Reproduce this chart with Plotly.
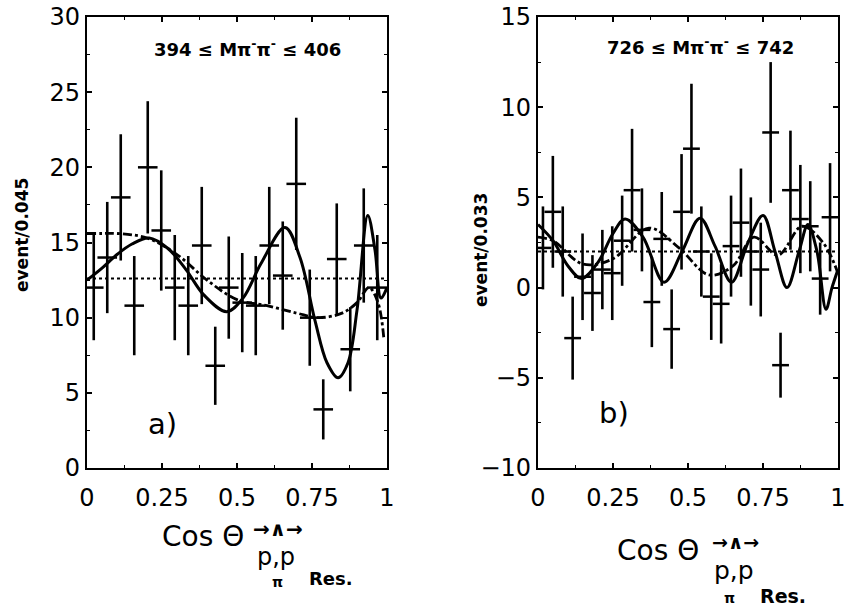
import plotly.graph_objects as go

W, H = 845, 608

# ---------------- data: panel a) ----------------
a_x = [0.0225, 0.0675, 0.1125, 0.1575, 0.2025, 0.2475, 0.2925, 0.3375, 0.3825, 0.4275, 0.4725,
       0.5175, 0.5625, 0.6075, 0.6525, 0.6975, 0.7425, 0.7875, 0.8325, 0.8775, 0.9225, 0.9675]
a_y = [12.0, 14.0, 18.0, 10.8, 20.0, 15.8, 12.0, 10.8, 14.8, 6.8, 12.0,
       11.0, 10.8, 14.8, 12.8, 18.9, 10.0, 3.9, 13.9, 7.9, 14.8, 12.0]
a_err = [3.5, 3.7, 4.2, 3.3, 4.4, 4.0, 3.5, 3.3, 3.9, 2.6, 3.4,
         3.3, 3.3, 3.9, 3.6, 4.4, 3.2, 2.0, 3.7, 2.8, 3.8, 3.5]

a_solid_x = [0, 0.05, 0.1, 0.15, 0.207, 0.27, 0.33, 0.39, 0.466, 0.52, 0.58, 0.66, 0.71, 0.76,
             0.8, 0.837, 0.87, 0.9, 0.936, 0.96, 0.98, 1.0]
a_solid_y = [12.5, 13.3, 14.2, 14.9, 15.3, 14.6, 13.2, 11.5, 10.4, 11.3, 13.6, 16.0, 14.0, 9.8,
             7.0, 6.0, 7.0, 10.5, 16.8, 14.5, 11.3, 12.0]
a_dash_x = [0, 0.05, 0.1, 0.2, 0.3, 0.4, 0.5, 0.6, 0.7, 0.77, 0.85, 0.9, 0.94, 0.97, 0.99]
a_dash_y = [15.6, 15.6, 15.6, 15.3, 14.2, 12.5, 11.2, 10.8, 10.3, 10.0, 10.3, 11.0, 12.0, 11.0, 8.5]
a_flat = 12.6

# ---------------- data: panel b) ----------------
b_x = [0.0165, 0.0495, 0.0825, 0.1155, 0.1485, 0.1815, 0.2145, 0.2475, 0.2805, 0.3135,
       0.3465, 0.3795, 0.4125, 0.4455, 0.4785, 0.5115, 0.5445, 0.5775, 0.6105, 0.6435,
       0.6765, 0.7095, 0.7425, 0.7755, 0.8085, 0.8415, 0.8745, 0.9075, 0.9405, 0.9735]
b_y = [2.2, 4.2, 2.0, -2.8, 0.6, -0.3, 1.0, 0.8, 2.6, 5.4,
       3.2, -0.8, 2.7, -2.3, 4.2, 7.7, 2.0, -0.5, -0.9, 2.3,
       3.6, 2.0, 1.0, 8.6, -4.3, 5.4, 3.8, 3.4, 0.5, 3.9]
b_err = [2.3, 3.1, 2.5, 2.3, 2.4, 2.1, 2.2, 2.6, 2.5, 3.4,
         2.3, 2.5, 2.6, 2.2, 3.2, 3.6, 2.5, 2.4, 2.2, 2.8,
         3.0, 3.0, 2.6, 3.9, 1.8, 3.3, 3.0, 2.5, 2.0, 3.0]

b_solid_x = [0, 0.05, 0.1, 0.145, 0.2, 0.25, 0.29, 0.35, 0.42, 0.48, 0.54, 0.59, 0.645,
             0.7, 0.75, 0.79, 0.83, 0.87, 0.9, 0.93, 0.96, 0.98, 1.0]
b_solid_y = [3.5, 2.6, 1.2, 0.5, 1.4, 3.0, 3.8, 2.8, 0.3, 2.0, 3.85, 2.3, 0.3,
             2.5, 4.0, 2.0, 0.0, 2.0, 3.5, 2.0, -1.2, 0.0, 1.0]
b_dash_x = [0, 0.05, 0.15, 0.25, 0.37, 0.47, 0.57, 0.65, 0.72, 0.8, 0.88, 0.95, 1.0]
b_dash_y = [2.8, 2.6, 1.3, 1.6, 3.3, 2.2, 0.7, 1.2, 2.8, 1.8, 3.4, 2.5, 0.8]
b_flat = 2.0

a_title = "394 ≤ Mπ<sup>-</sup>π<sup>-</sup> ≤ 406"
b_title = "726 ≤ Mπ<sup>-</sup>π<sup>-</sup> ≤ 742"
a_ylabel = "event/0.045"
b_ylabel = "event/0.033"
x_ticks = [0, 0.25, 0.5, 0.75, 1]
x_ticktext = ["0", "0.25", "0.5", "0.75", "1"]


def px(x):
    return x / W


def py(y):
    return 1 - y / H


fig = go.Figure()


def add_panel(xs, ys, errs, sx, sy, dx, dy, flat, xa, ya, msize):
    fig.add_trace(go.Scatter(x=xs, y=ys, mode="markers", xaxis=xa, yaxis=ya,
                             marker=dict(symbol="line-ew", size=msize, color="black",
                                         line=dict(color="black", width=2.5)),
                             error_y=dict(type="data", array=errs, visible=True, width=0,
                                          thickness=2.6, color="black"),
                             showlegend=False, hoverinfo="skip"))
    fig.add_trace(go.Scatter(x=[0, 1], y=[flat, flat], mode="lines", xaxis=xa, yaxis=ya,
                             line=dict(color="black", width=2, dash="dot"),
                             showlegend=False, hoverinfo="skip"))
    fig.add_trace(go.Scatter(x=dx, y=dy, mode="lines", xaxis=xa, yaxis=ya,
                             line=dict(color="black", width=2.8, dash="dashdot", shape="spline",
                                       smoothing=1.0),
                             showlegend=False, hoverinfo="skip"))
    fig.add_trace(go.Scatter(x=sx, y=sy, mode="lines", xaxis=xa, yaxis=ya,
                             line=dict(color="black", width=3, shape="spline", smoothing=1.0),
                             showlegend=False, hoverinfo="skip"))


add_panel(a_x, a_y, a_err, a_solid_x, a_solid_y, a_dash_x, a_dash_y, a_flat, "x", "y", 14)
add_panel(b_x, b_y, b_err, b_solid_x, b_solid_y, b_dash_x, b_dash_y, b_flat, "x2", "y2", 12)

tickfont = dict(family="DejaVu Sans", size=24, color="black")


def xaxis(domain, anchor):
    return dict(domain=domain, anchor=anchor, range=[0, 1], tickvals=x_ticks, ticktext=x_ticktext,
                ticks="inside", ticklen=5, tickwidth=1.5, tickcolor="black", mirror="allticks",
                showline=True, linewidth=2.2, linecolor="black", showgrid=False, zeroline=False,
                tickfont=tickfont, ticklabelstandoff=7, automargin=False, ticklabeloverflow="allow",
                minor=dict(dtick=0.125, ticks="inside", ticklen=3, tickcolor="black", tickwidth=1.2))


def yaxis(domain, anchor, rng, dtick):
    return dict(domain=domain, anchor=anchor, range=rng, dtick=dtick, tick0=0,
                ticks="inside", ticklen=5, tickwidth=1.5, tickcolor="black", mirror="allticks",
                showline=True, linewidth=2.2, linecolor="black", showgrid=False, zeroline=False,
                tickfont=tickfont, automargin=False, ticklabeloverflow="allow",
                minor=dict(dtick=dtick / 2, ticks="inside", ticklen=3, tickcolor="black", tickwidth=1.2))


ydom = [py(468), py(17)]
fig.update_layout(
    width=W, height=H, margin=dict(l=0, r=0, t=0, b=0),
    paper_bgcolor="white", plot_bgcolor="white",
    xaxis=xaxis([px(87), px(387)], "y"),
    yaxis=yaxis(ydom, "x", [0, 30], 5),
    xaxis2=xaxis([px(538), px(838)], "y2"),
    yaxis2=yaxis(ydom, "x2", [-10, 15], 5),
)

ann = []


def text(x, y, s, size, bold=False, family="DejaVu Sans", angle=0):
    ann.append(dict(x=px(x), y=py(y), xref="paper", yref="paper", text=("<b>%s</b>" % s) if bold else s,
                    showarrow=False, xanchor="center", yanchor="middle", textangle=angle,
                    font=dict(family=family, size=size, color="black")))


# panel titles
text(247, 48, a_title, 18, bold=True)
text(700, 46, b_title, 18, bold=True)
# panel letters
text(162, 424, "a)", 29)
text(614, 413, "b)", 29)
# y labels
text(22, 235, a_ylabel, 17, bold=True, angle=-90)
text(481, 250, b_ylabel, 17, bold=True, angle=-90)

# x labels (left)
text(203, 536, "Cos Θ", 28)
text(278, 529, "→∧→", 20, bold=True)
text(276, 557, "p,p", 24)
text(277, 582, "π", 14, bold=True)
text(331, 578, "Res.", 18, bold=True)
# x labels (right)
text(658, 550, "Cos Θ", 28)
text(735, 542, "→∧→", 19, bold=True)
text(734, 570, "p,p", 25)
text(729, 598, "π", 14, bold=True)
text(783, 596, "Res.", 19, bold=True)

fig.update_layout(annotations=ann)
fig.write_html("out.html")
